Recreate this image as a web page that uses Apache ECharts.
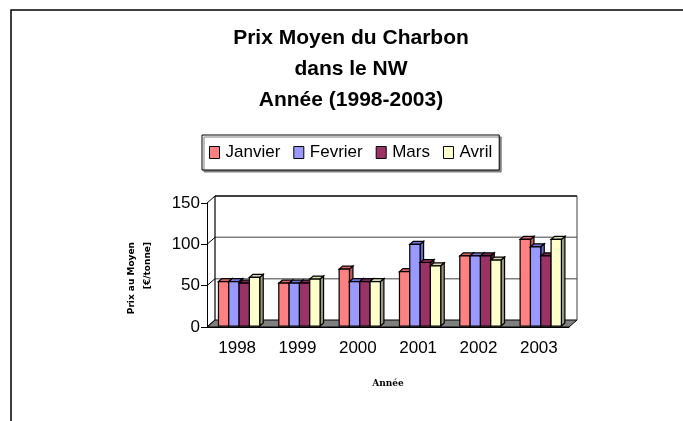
<!DOCTYPE html>
<html>
<head>
<meta charset="utf-8">
<script src="https://cdn.jsdelivr.net/npm/echarts@6/dist/echarts.min.js"></script>
<style>
    html, body { margin: 0; padding: 0; background: #fff; }
    #chart { width: 683px; height: 421px; }
</style>
</head>
<body>
<div id="chart"></div>
<script>
// données
const categories = ['1998', '1999', '2000', '2001', '2002', '2003'];
const janvier = [55, 53, 70, 67, 86, 106];
const fevrier = [55, 53, 55, 100, 86, 97];
const mars = [53, 53, 55, 78, 86, 86];
const avril = [60, 58, 55, 74, 81, 106];
const yTicks = [0, 50, 100, 150];

const FONT = 'Liberation Sans, Arial, sans-serif';

// face avant, dessus, côté
const palette = {
    Janvier: ['#ff8080', '#d86262', '#c05a5a'],
    Fevrier: ['#9999ff', '#7474d8', '#6a6ac0'],
    Mars: ['#993366', '#7a2850', '#662244'],
    Avril: ['#ffffcc', '#d8d8a8', '#9a9a80']
};

// barre "3D" : face + dessus + côté, à partir des coordonnées de l'axe
function barRenderer(j, colors) {
    return function (params, api) {
        const i = api.value(0);
        const v = api.value(1);
        const base = api.coord([i, 0]);
        const top = api.coord([i, v]);
        const catW = api.size([1, 0])[0];
        const w = catW * 0.171;
        const x = base[0] - catW / 2 + catW * 0.19 + j * w;
        const dx = 3.5, dy = -3;
        const yb = base[1] - 1;
        const yt = top[1];
        return {
            type: 'group',
            children: [
                {
                    type: 'polygon',
                    shape: { points: [[x + w, yb], [x + w + dx, yb + dy], [x + w + dx, yt + dy], [x + w, yt]] },
                    style: { fill: colors[2], stroke: '#000', lineWidth: 1.2 }
                },
                {
                    type: 'polygon',
                    shape: { points: [[x, yt], [x + dx, yt + dy], [x + w + dx, yt + dy], [x + w, yt]] },
                    style: { fill: colors[1], stroke: '#000', lineWidth: 1.2 }
                },
                {
                    type: 'rect',
                    shape: { x: x, y: yt, width: w, height: yb - yt },
                    style: { fill: colors[0], stroke: '#000', lineWidth: 1.2 }
                }
            ]
        };
    };
}

// mur du fond, sol gris, paroi gauche
function frameRenderer(params, api) {
    const DX = 8, DY = -7;
    const c0 = api.coord([0, 0]);
    const catW = api.size([1, 0])[0];
    const left = c0[0] - catW / 2;
    const right = left + catW * categories.length;
    const ys = yTicks.map(t => api.coord([0, t])[1]);
    const y0 = ys[0];
    const yTop = ys[ys.length - 1];
    const children = [];
    children.push({
        type: 'polygon',
        shape: { points: [[left, y0], [right, y0], [right + DX, y0 + DY], [left + DX, y0 + DY]] },
        style: { fill: '#808080', stroke: '#000', lineWidth: 1 }
    });
    ys.forEach((y, k) => {
        if (k > 0) {
            children.push({
                type: 'line',
                shape: { x1: left + DX, y1: y + DY, x2: right + DX, y2: y + DY },
                style: { stroke: k === ys.length - 1 ? '#000' : '#808080', lineWidth: 1.5 }
            });
        }
        children.push({
            type: 'line',
            shape: { x1: left, y1: y, x2: left + DX, y2: y + DY },
            style: { stroke: '#000', lineWidth: 1 }
        });
    });
    children.push({
        type: 'line',
        shape: { x1: left + DX, y1: y0 + DY, x2: left + DX, y2: yTop + DY },
        style: { stroke: '#000', lineWidth: 1.2 }
    });
    children.push({
        type: 'line',
        shape: { x1: right + DX, y1: y0 + DY, x2: right + DX, y2: yTop + DY },
        style: { stroke: '#404040', lineWidth: 1 }
    });
    return { type: 'group', children: children };
}

const months = [
    { name: 'Janvier', values: janvier },
    { name: 'Fevrier', values: fevrier },
    { name: 'Mars', values: mars },
    { name: 'Avril', values: avril }
];

const series = [{
    type: 'custom',
    name: 'cadre',
    renderItem: frameRenderer,
    data: [[0, 0]],
    silent: true,
    z: 1
}];
months.forEach((m, j) => {
    series.push({
        type: 'custom',
        name: m.name,
        renderItem: barRenderer(j, palette[m.name]),
        itemStyle: { color: palette[m.name][0] },
        encode: { x: 0, y: 1 },
        data: m.values.map((v, i) => [i, v]),
        z: 2
    });
});

const chart = echarts.init(document.getElementById('chart'), null, { renderer: 'canvas' });
chart.setOption({
    animation: false,
    backgroundColor: '#fff',
    title: {
        text: 'Prix Moyen du Charbon\ndans le NW\nAnnée (1998-2003)',
        left: 351,
        textAlign: 'center',
        top: 23,
        padding: 0,
        textStyle: { fontFamily: FONT, fontSize: 21, fontWeight: 'bold', color: '#000', lineHeight: 31 }
    },
    legend: {
        left: 202,
        top: 135,
        padding: [9, 7, 9, 7],
        itemWidth: 10,
        itemHeight: 12,
        itemGap: 13,
        icon: 'rect',
        selectedMode: false,
        borderColor: '#000',
        borderWidth: 1,
        backgroundColor: '#fff',
        shadowColor: '#808080',
        shadowOffsetX: 2,
        shadowOffsetY: 2,
        shadowBlur: 0,
        textStyle: { fontFamily: FONT, fontSize: 17, color: '#000', padding: [0, 0, 0, 1] },
        data: months.map(m => ({
            name: m.name,
            itemStyle: { color: palette[m.name][0], borderColor: '#000', borderWidth: 1 }
        }))
    },
    grid: { left: 207, right: 114, top: 203, bottom: 94 },
    xAxis: {
        type: 'category',
        data: categories,
        axisLine: { lineStyle: { color: '#000', width: 1 } },
        axisTick: { length: 6, lineStyle: { color: '#000' } },
        axisLabel: { fontFamily: FONT, fontSize: 17, color: '#000', margin: 13 },
        name: 'Année',
        nameLocation: 'middle',
        nameGap: 52,
        nameTextStyle: { fontFamily: 'DejaVu Serif', fontSize: 9, fontWeight: 'bold', color: '#000' }
    },
    yAxis: {
        type: 'value',
        min: 0,
        max: 150,
        interval: 50,
        axisLine: { show: true, lineStyle: { color: '#000', width: 1 } },
        axisTick: { show: true, length: 6, lineStyle: { color: '#000' } },
        splitLine: { show: false },
        axisLabel: { fontFamily: FONT, fontSize: 17, color: '#000', margin: 7 }
    },
    graphic: [
        {
            type: 'rect',
            shape: { x: 11, y: 10, width: 720, height: 460 },
            style: { fill: 'none', stroke: '#000', lineWidth: 1.5 },
            silent: true
        },
        {
            type: 'text',
            x: 140,
            y: 242,
            rotation: Math.PI / 2,
            style: {
                text: 'Prix au Moyen\n[€/tonne]',
                align: 'right',
                verticalAlign: 'middle',
                lineHeight: 16,
                font: 'bold 9px "DejaVu Sans"',
                fill: '#000'
            },
            silent: true
        }
    ],
    series: series
});
</script>
</body>
</html>
